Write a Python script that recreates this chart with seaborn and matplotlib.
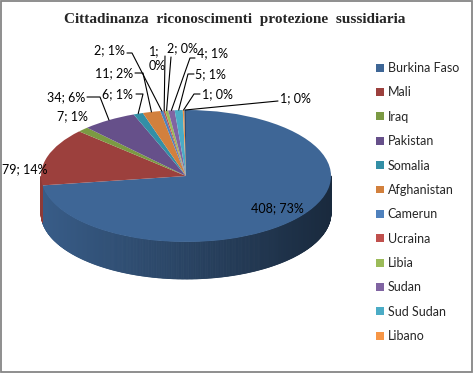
import matplotlib
matplotlib.use("Agg")
import matplotlib.pyplot as plt
import matplotlib.colors as mcolors
from matplotlib.collections import PolyCollection
from matplotlib.lines import Line2D
from matplotlib.patches import Rectangle
import seaborn as sns
import numpy as np

# data
title = "Cittadinanza  riconoscimenti  protezione  sussidiaria"
countries = ["Burkina Faso", "Mali", "Iraq", "Pakistan", "Somalia", "Afghanistan",
             "Camerun", "Ucraina", "Libia", "Sudan", "Sud Sudan", "Libano", ""]
values = [408, 79, 7, 34, 6, 11, 2, 1, 2, 4, 5, 1, 1]
labels = ["408; 73%", "79; 14%", "7; 1%", "34; 6%", "6; 1%", "11; 2%", "2; 1%",
          "1;\n0%", "2; 0%", "4; 1%", "5; 1%", "1; 0%", "1; 0%"]
colors = ["#3E6696", "#9C403D", "#7B9A43", "#66508A", "#338FA6", "#D2803D",
          "#4F81BD", "#C0504D", "#9BBB59", "#8064A2", "#4BACC6", "#F79646", "#2C4D75"]

# layout in image pixels
W, H = 476, 375
CX, CY, RX, RY, DEPTH = 186, 176, 145, 66, 37

# label position (px), alignment, leader elbow points (px)
label_layout = [
    (277, 208, "center", None),
    (25, 169, "center", None),
    (72, 116, "center", None),
    (85, 97, "right", [(87, 97), (100, 97)]),
    (133, 94, "right", [(136, 94), (143, 94)]),
    (133, 73, "right", [(135, 73), (143, 73)]),
    (125, 50, "right", [(127, 53), (132, 53)]),
    (149, 59, "left", [(165, 56)]),
    (167, 48, "left", [(171, 57)]),
    (197, 53, "left", [(195, 58), (190, 58)]),
    (195, 74, "left", [(194, 74), (188, 74)]),
    (202, 94, "left", [(200, 94), (194, 94)]),
    (280, 98, "left", [(278, 101)]),
]


def fx(x):
    return x / W


def fy(y):
    return 1 - y / H


sns.set_theme(style="white")
plt.rcParams["font.family"] = ["Lato", "DejaVu Sans"]

fig = plt.figure(figsize=(W / 100, H / 100), dpi=100)
ax = fig.add_axes([0, 0, 1, 1])
wedges, _ = ax.pie(values, colors=colors, startangle=90, counterclock=False,
                   wedgeprops=dict(linewidth=0), radius=1)
ax.set_aspect("auto")
ax.set_xlim(-CX / RX, (W - CX) / RX)
ax.set_ylim(-(H - CY) / RY, CY / RY)
ax.axis("off")

# side wall of the tilted pie, shaded darker towards the right
d = DEPTH / RY
polys, fcs = [], []
for w, c in zip(wedges, colors):
    n = max(2, int((w.theta2 - w.theta1) / 0.5) + 2)
    angs = np.radians(np.linspace(w.theta1, w.theta2, n))
    rgb = np.array(mcolors.to_rgb(c))
    for a, b in zip(angs[:-1], angs[1:]):
        m = (a + b) / 2
        if np.sin(m) >= 0:
            continue
        xa, ya, xb, yb = np.cos(a), np.sin(a), np.cos(b), np.sin(b)
        polys.append([(xa, ya), (xb, yb), (xb, yb - d), (xa, ya - d)])
        fcs.append(np.clip(rgb * (0.66 - 0.25 * np.cos(m)), 0, 1))
side = PolyCollection(polys, facecolors=fcs, edgecolors=fcs, linewidths=0.6, zorder=0.5)
ax.add_collection(side)

# data labels with leader lines
to_fig = fig.transFigure.inverted()
for w, lab, (lx, ly, ha, elbow) in zip(wedges, labels, label_layout):
    fig.text(fx(lx), fy(ly), lab, ha=ha, va="center", fontsize=9, color="black",
             linespacing=1.3, multialignment="left")
    if elbow is None:
        continue
    m = np.radians((w.theta1 + w.theta2) / 2)
    rim = to_fig.transform(ax.transData.transform((np.cos(m), np.sin(m))))
    xs = [fx(p[0]) for p in elbow] + [rim[0]]
    ys = [fy(p[1]) for p in elbow] + [rim[1]]
    fig.add_artist(Line2D(xs, ys, transform=fig.transFigure, color="black", lw=0.8))

fig.text(fx(235), fy(20), title, ha="center", va="center", family="Liberation Serif",
         weight="bold", fontsize=11)

fig.legend(wedges[:12], countries[:12], loc="upper left", bbox_to_anchor=(fx(376), fy(62)),
           frameon=False, fontsize=9, handlelength=0.6, handleheight=0.6,
           handletextpad=0.35, labelspacing=0.99, borderaxespad=0, borderpad=0)

fig.add_artist(Rectangle((fx(1), fy(372)), 471 / W, 371 / H, transform=fig.transFigure,
                         fill=False, ec="#868686", lw=1.3))

fig.savefig("out.png", dpi=100)
